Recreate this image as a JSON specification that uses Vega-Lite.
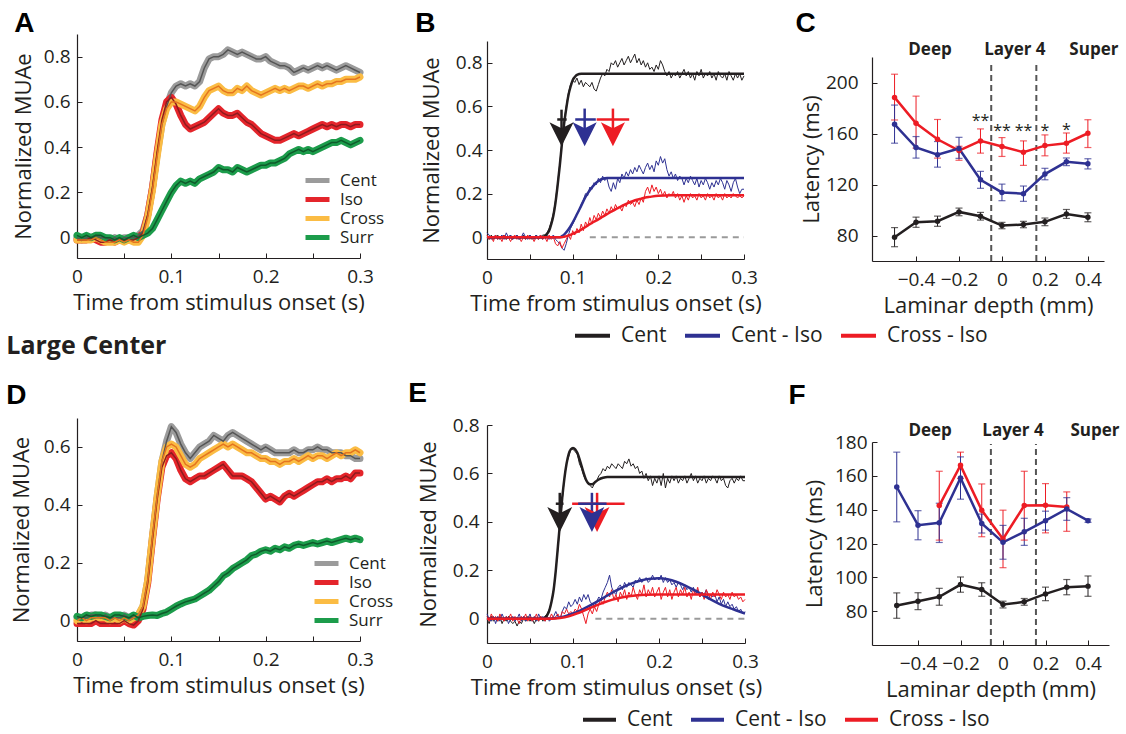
{
"$schema": "https://vega.github.io/schema/vega-lite/v6.json",
"background": "white",
"padding": {"left": 6, "top": 10, "right": 0, "bottom": 2},
"config": {
  "view": {"stroke": null},
  "axis": {"grid": false, "domainColor": "#231f20", "domainWidth": 1.2, "tickColor": "#231f20", "tickSize": -5, "labelColor": "#231f20", "titleColor": "#231f20", "labelFont": "Open Sans", "titleFont": "Open Sans", "labelFontSize": 19, "titleFontSize": 22, "titleFontWeight": "normal", "labelFlush": false, "labelOverlap": false},
  "title": {"anchor": "start", "frame": "bounds", "font": "Liberation Sans", "fontSize": 28, "fontWeight": "bold", "color": "#000000", "offset": -4},
  "legend": {"labelFont": "Open Sans", "labelColor": "#231f20"}
},
"columns": 3,
"align": "each",
"bounds": "flush",
"spacing": {"row": 157, "column": 127},
"resolve": {"scale": {"x": "independent", "y": "independent", "color": "independent", "stroke": "independent", "fill": "independent"}, "legend": {"color": "independent"}},
"concat": [
  {
   "width": 283, "height": 224,
   "title": {"text": "A", "dx": 2},
   "data": {"values": [
{"t":0,"Cent":0,"Iso":-0.01,"Cross":-0.01,"Surr":0.01},
{"t":0.005,"Cent":-0.01,"Iso":-0.01,"Cross":-0.01,"Surr":0},
{"t":0.01,"Cent":0,"Iso":-0.01,"Cross":-0.01,"Surr":0.01},
{"t":0.015,"Cent":0,"Iso":0,"Cross":-0.01,"Surr":0},
{"t":0.02,"Cent":0.01,"Iso":-0.01,"Cross":0,"Surr":0.01},
{"t":0.025,"Cent":0,"Iso":-0.02,"Cross":-0.01,"Surr":0.01},
{"t":0.03,"Cent":0,"Iso":-0.02,"Cross":-0.02,"Surr":0},
{"t":0.035,"Cent":-0.01,"Iso":-0.01,"Cross":-0.02,"Surr":0},
{"t":0.04,"Cent":0,"Iso":-0.02,"Cross":-0.02,"Surr":-0.01},
{"t":0.045,"Cent":-0.01,"Iso":-0.01,"Cross":-0.01,"Surr":0},
{"t":0.05,"Cent":0,"Iso":-0.01,"Cross":-0.02,"Surr":-0.01},
{"t":0.055,"Cent":0,"Iso":-0.01,"Cross":-0.01,"Surr":0},
{"t":0.06,"Cent":0,"Iso":-0.01,"Cross":-0.02,"Surr":0.01},
{"t":0.065,"Cent":0.01,"Iso":0,"Cross":-0.02,"Surr":0},
{"t":0.07,"Cent":0.03,"Iso":0.02,"Cross":0.01,"Surr":0.01},
{"t":0.075,"Cent":0.1,"Iso":0.1,"Cross":0.09,"Surr":0.02},
{"t":0.08,"Cent":0.22,"Iso":0.22,"Cross":0.21,"Surr":0.04},
{"t":0.085,"Cent":0.37,"Iso":0.38,"Cross":0.36,"Surr":0.08},
{"t":0.09,"Cent":0.5,"Iso":0.52,"Cross":0.5,"Surr":0.12},
{"t":0.095,"Cent":0.58,"Iso":0.6,"Cross":0.57,"Surr":0.16},
{"t":0.1,"Cent":0.64,"Iso":0.62,"Cross":0.6,"Surr":0.2},
{"t":0.105,"Cent":0.67,"Iso":0.59,"Cross":0.6,"Surr":0.23},
{"t":0.11,"Cent":0.68,"Iso":0.54,"Cross":0.59,"Surr":0.25},
{"t":0.115,"Cent":0.67,"Iso":0.5,"Cross":0.58,"Surr":0.24},
{"t":0.12,"Cent":0.68,"Iso":0.48,"Cross":0.57,"Surr":0.25},
{"t":0.125,"Cent":0.67,"Iso":0.49,"Cross":0.56,"Surr":0.24},
{"t":0.13,"Cent":0.69,"Iso":0.5,"Cross":0.58,"Surr":0.26},
{"t":0.135,"Cent":0.75,"Iso":0.51,"Cross":0.62,"Surr":0.27},
{"t":0.14,"Cent":0.79,"Iso":0.53,"Cross":0.65,"Surr":0.28},
{"t":0.145,"Cent":0.8,"Iso":0.55,"Cross":0.66,"Surr":0.29},
{"t":0.15,"Cent":0.8,"Iso":0.57,"Cross":0.67,"Surr":0.31},
{"t":0.155,"Cent":0.81,"Iso":0.55,"Cross":0.65,"Surr":0.3},
{"t":0.16,"Cent":0.83,"Iso":0.54,"Cross":0.64,"Surr":0.3},
{"t":0.165,"Cent":0.82,"Iso":0.54,"Cross":0.64,"Surr":0.29},
{"t":0.17,"Cent":0.81,"Iso":0.55,"Cross":0.66,"Surr":0.31},
{"t":0.175,"Cent":0.82,"Iso":0.53,"Cross":0.65,"Surr":0.3},
{"t":0.18,"Cent":0.81,"Iso":0.51,"Cross":0.67,"Surr":0.29},
{"t":0.185,"Cent":0.8,"Iso":0.5,"Cross":0.65,"Surr":0.3},
{"t":0.19,"Cent":0.79,"Iso":0.48,"Cross":0.64,"Surr":0.31},
{"t":0.195,"Cent":0.79,"Iso":0.46,"Cross":0.63,"Surr":0.32},
{"t":0.2,"Cent":0.8,"Iso":0.45,"Cross":0.64,"Surr":0.32},
{"t":0.205,"Cent":0.78,"Iso":0.44,"Cross":0.65,"Surr":0.33},
{"t":0.21,"Cent":0.77,"Iso":0.43,"Cross":0.66,"Surr":0.33},
{"t":0.215,"Cent":0.76,"Iso":0.43,"Cross":0.65,"Surr":0.34},
{"t":0.22,"Cent":0.76,"Iso":0.44,"Cross":0.66,"Surr":0.35},
{"t":0.225,"Cent":0.75,"Iso":0.45,"Cross":0.65,"Surr":0.37},
{"t":0.23,"Cent":0.73,"Iso":0.46,"Cross":0.66,"Surr":0.38},
{"t":0.235,"Cent":0.74,"Iso":0.45,"Cross":0.67,"Surr":0.39},
{"t":0.24,"Cent":0.75,"Iso":0.46,"Cross":0.67,"Surr":0.38},
{"t":0.245,"Cent":0.74,"Iso":0.47,"Cross":0.66,"Surr":0.39},
{"t":0.25,"Cent":0.75,"Iso":0.48,"Cross":0.67,"Surr":0.38},
{"t":0.255,"Cent":0.76,"Iso":0.49,"Cross":0.68,"Surr":0.39},
{"t":0.26,"Cent":0.75,"Iso":0.5,"Cross":0.67,"Surr":0.4},
{"t":0.265,"Cent":0.76,"Iso":0.49,"Cross":0.68,"Surr":0.41},
{"t":0.27,"Cent":0.75,"Iso":0.5,"Cross":0.68,"Surr":0.42},
{"t":0.275,"Cent":0.74,"Iso":0.49,"Cross":0.69,"Surr":0.42},
{"t":0.28,"Cent":0.75,"Iso":0.5,"Cross":0.69,"Surr":0.43},
{"t":0.285,"Cent":0.76,"Iso":0.5,"Cross":0.7,"Surr":0.42},
{"t":0.29,"Cent":0.75,"Iso":0.49,"Cross":0.7,"Surr":0.41},
{"t":0.295,"Cent":0.74,"Iso":0.5,"Cross":0.7,"Surr":0.42},
{"t":0.3,"Cent":0.73,"Iso":0.5,"Cross":0.71,"Surr":0.43}
   ]},
   "transform": [{"fold": ["Cent","Iso","Cross","Surr"], "as": ["k","v"]}],
   "layer": [
    {"mark": {"type": "line", "strokeWidth": 7, "strokeJoin": "round", "strokeCap": "round"},
     "encoding": {
      "x": {"field": "t", "type": "quantitative", "scale": {"domain": [0,0.3], "nice": false, "zero": false},
            "axis": {"title": "Time from stimulus onset (s)", "values": [0,0.05,0.1,0.15,0.2,0.25,0.3], "format": "~g", "labelExpr": "round(datum.value*20) % 2 == 0 ? datum.label : ''", "labelPadding": 14, "titlePadding": 6}},
      "y": {"field": "v", "type": "quantitative", "scale": {"domain": [-0.09,0.9], "nice": false, "zero": false},
            "axis": {"title": "Normalized MUAe", "values": [0,0.1,0.2,0.3,0.4,0.5,0.6,0.7,0.8], "format": "~g", "labelExpr": "round(datum.value*10) % 2 == 0 ? datum.label : ''", "labelPadding": 12, "titlePadding": 8}},
      "color": {"field": "k", "type": "nominal", "scale": {"domain": ["Cent","Iso","Cross","Surr"], "range": ["#9b9b9b","#e4252b","#fbbc44","#1c9c4b"]},
                "legend": {"title": null, "orient": "none", "legendX": 226, "legendY": 137, "symbolType": "stroke", "symbolSize": 576, "symbolStrokeWidth": 5, "labelFontSize": 17, "labelOffset": 8, "rowPadding": 0, "clipHeight": 19}}
     }},
    {"mark": {"type": "line", "strokeWidth": 1.5},
     "encoding": {
      "x": {"field": "t", "type": "quantitative", "scale": {"domain": [0,0.3], "nice": false, "zero": false}},
      "y": {"field": "v", "type": "quantitative", "scale": {"domain": [-0.09,0.9], "nice": false, "zero": false}},
      "stroke": {"field": "k", "type": "nominal", "scale": {"domain": ["Cent","Iso","Cross","Surr"], "range": ["#555555","#8e1b1e","#e4741f","#0f5a2b"]}, "legend": null}
     }}
   ]
  },
  {
   "width": 257, "height": 225,
   "title": {"text": "B", "dx": -5},
   "layer": [
    {"data": {"values": [{"t":0.12,"t2":0.3,"v":0}]},
     "mark": {"type": "rule", "strokeDash": [6,5], "strokeWidth": 2, "color": "#9a9a9a"},
     "encoding": {
      "x": {"field": "t", "type": "quantitative", "scale": {"domain": [0,0.3], "nice": false, "zero": false}},
      "x2": {"field": "t2"},
      "y": {"field": "v", "type": "quantitative", "scale": {"domain": [-0.1,0.9], "range": [225,7], "nice": false, "zero": false}}
     }},
    {"data": {"values": [
{"t":0,"c":0,"b":0.02,"r":0.01},
{"t":0.0025,"c":-0.01,"b":0.01,"r":-0.01},
{"t":0.005,"c":0.01,"b":-0.01,"r":0},
{"t":0.0075,"c":-0.01,"b":0,"r":-0.02},
{"t":0.01,"c":0,"b":0.01,"r":0.01},
{"t":0.0125,"c":0.01,"b":-0.01,"r":-0.01},
{"t":0.015,"c":-0.01,"b":0,"r":0},
{"t":0.0175,"c":0,"b":0.01,"r":-0.02},
{"t":0.02,"c":0.01,"b":-0.01,"r":0.01},
{"t":0.0225,"c":-0.01,"b":0.02,"r":-0.01},
{"t":0.025,"c":0,"b":0,"r":0},
{"t":0.0275,"c":0.01,"b":0.01,"r":-0.02},
{"t":0.03,"c":-0.01,"b":-0.01,"r":0},
{"t":0.0325,"c":0,"b":0,"r":0.01},
{"t":0.035,"c":0.01,"b":0.01,"r":-0.01},
{"t":0.0375,"c":-0.01,"b":-0.01,"r":0},
{"t":0.04,"c":0,"b":0,"r":-0.02},
{"t":0.0425,"c":0.01,"b":0.02,"r":0},
{"t":0.045,"c":-0.01,"b":0,"r":-0.01},
{"t":0.0475,"c":0,"b":-0.01,"r":0.01},
{"t":0.05,"c":0.01,"b":0.01,"r":-0.01},
{"t":0.0525,"c":-0.01,"b":0,"r":0},
{"t":0.055,"c":0,"b":-0.01,"r":-0.02},
{"t":0.0575,"c":0.01,"b":0.01,"r":0},
{"t":0.06,"c":-0.01,"b":0,"r":-0.01},
{"t":0.0625,"c":0,"b":0.01,"r":0.01},
{"t":0.065,"c":0.01,"b":-0.01,"r":-0.01},
{"t":0.0675,"c":0.01,"b":0,"r":0},
{"t":0.07,"c":0.02,"b":0.01,"r":-0.02},
{"t":0.0725,"c":0.04,"b":-0.01,"r":0.01},
{"t":0.075,"c":0.07,"b":0,"r":-0.01},
{"t":0.0775,"c":0.11,"b":0.01,"r":0},
{"t":0.08,"c":0.17,"b":-0.01,"r":-0.03},
{"t":0.0825,"c":0.25,"b":-0.02,"r":-0.04},
{"t":0.085,"c":0.34,"b":-0.03,"r":-0.02},
{"t":0.0875,"c":0.44,"b":-0.05,"r":-0.05},
{"t":0.09,"c":0.53,"b":-0.06,"r":-0.03},
{"t":0.0925,"c":0.6,"b":-0.03,"r":-0.01},
{"t":0.095,"c":0.66,"b":0.01,"r":0.01},
{"t":0.0975,"c":0.7,"b":0.04,"r":-0.01},
{"t":0.1,"c":0.72,"b":0.06,"r":0.03},
{"t":0.1025,"c":0.71,"b":0.08,"r":0.01},
{"t":0.105,"c":0.73,"b":0.11,"r":0.04},
{"t":0.1075,"c":0.7,"b":0.12,"r":0.02},
{"t":0.11,"c":0.72,"b":0.15,"r":0.06},
{"t":0.1125,"c":0.69,"b":0.17,"r":0.03},
{"t":0.115,"c":0.71,"b":0.2,"r":0.07},
{"t":0.1175,"c":0.7,"b":0.19,"r":0.05},
{"t":0.12,"c":0.69,"b":0.23,"r":0.09},
{"t":0.1225,"c":0.71,"b":0.22,"r":0.06},
{"t":0.125,"c":0.68,"b":0.25,"r":0.1},
{"t":0.1275,"c":0.67,"b":0.24,"r":0.08},
{"t":0.13,"c":0.7,"b":0.27,"r":0.11},
{"t":0.1325,"c":0.73,"b":0.25,"r":0.09},
{"t":0.135,"c":0.75,"b":0.28,"r":0.12},
{"t":0.1375,"c":0.74,"b":0.26,"r":0.1},
{"t":0.14,"c":0.77,"b":0.27,"r":0.13},
{"t":0.1425,"c":0.76,"b":0.23,"r":0.11},
{"t":0.145,"c":0.8,"b":0.21,"r":0.14},
{"t":0.1475,"c":0.79,"b":0.25,"r":0.12},
{"t":0.15,"c":0.81,"b":0.22,"r":0.15},
{"t":0.1525,"c":0.78,"b":0.27,"r":0.13},
{"t":0.155,"c":0.8,"b":0.25,"r":0.14},
{"t":0.1575,"c":0.82,"b":0.29,"r":0.12},
{"t":0.16,"c":0.79,"b":0.27,"r":0.15},
{"t":0.1625,"c":0.81,"b":0.3,"r":0.14},
{"t":0.165,"c":0.83,"b":0.28,"r":0.17},
{"t":0.1675,"c":0.8,"b":0.31,"r":0.15},
{"t":0.17,"c":0.82,"b":0.29,"r":0.16},
{"t":0.1725,"c":0.84,"b":0.32,"r":0.14},
{"t":0.175,"c":0.8,"b":0.3,"r":0.17},
{"t":0.1775,"c":0.82,"b":0.33,"r":0.15},
{"t":0.18,"c":0.79,"b":0.31,"r":0.18},
{"t":0.1825,"c":0.81,"b":0.29,"r":0.16},
{"t":0.185,"c":0.78,"b":0.32,"r":0.21},
{"t":0.1875,"c":0.8,"b":0.34,"r":0.23},
{"t":0.19,"c":0.77,"b":0.31,"r":0.2},
{"t":0.1925,"c":0.78,"b":0.33,"r":0.24},
{"t":0.195,"c":0.76,"b":0.3,"r":0.21},
{"t":0.1975,"c":0.79,"b":0.35,"r":0.23},
{"t":0.2,"c":0.77,"b":0.33,"r":0.2},
{"t":0.2025,"c":0.81,"b":0.37,"r":0.22},
{"t":0.205,"c":0.79,"b":0.34,"r":0.19},
{"t":0.2075,"c":0.76,"b":0.36,"r":0.21},
{"t":0.21,"c":0.74,"b":0.31,"r":0.18},
{"t":0.2125,"c":0.76,"b":0.28,"r":0.2},
{"t":0.215,"c":0.73,"b":0.3,"r":0.19},
{"t":0.2175,"c":0.75,"b":0.27,"r":0.21},
{"t":0.22,"c":0.74,"b":0.29,"r":0.18},
{"t":0.2225,"c":0.76,"b":0.26,"r":0.2},
{"t":0.225,"c":0.73,"b":0.28,"r":0.17},
{"t":0.2275,"c":0.75,"b":0.27,"r":0.19},
{"t":0.23,"c":0.77,"b":0.24,"r":0.16},
{"t":0.2325,"c":0.74,"b":0.27,"r":0.19},
{"t":0.235,"c":0.76,"b":0.25,"r":0.17},
{"t":0.2375,"c":0.73,"b":0.28,"r":0.2},
{"t":0.24,"c":0.75,"b":0.26,"r":0.18},
{"t":0.2425,"c":0.72,"b":0.24,"r":0.19},
{"t":0.245,"c":0.76,"b":0.27,"r":0.17},
{"t":0.2475,"c":0.74,"b":0.23,"r":0.2},
{"t":0.25,"c":0.77,"b":0.26,"r":0.18},
{"t":0.2525,"c":0.73,"b":0.24,"r":0.19},
{"t":0.255,"c":0.75,"b":0.27,"r":0.17},
{"t":0.2575,"c":0.74,"b":0.25,"r":0.2},
{"t":0.26,"c":0.76,"b":0.22,"r":0.18},
{"t":0.2625,"c":0.73,"b":0.25,"r":0.19},
{"t":0.265,"c":0.75,"b":0.23,"r":0.17},
{"t":0.2675,"c":0.72,"b":0.26,"r":0.2},
{"t":0.27,"c":0.76,"b":0.24,"r":0.18},
{"t":0.2725,"c":0.74,"b":0.27,"r":0.19},
{"t":0.275,"c":0.73,"b":0.25,"r":0.17},
{"t":0.2775,"c":0.75,"b":0.22,"r":0.2},
{"t":0.28,"c":0.72,"b":0.26,"r":0.18},
{"t":0.2825,"c":0.76,"b":0.24,"r":0.19},
{"t":0.285,"c":0.74,"b":0.21,"r":0.18},
{"t":0.2875,"c":0.72,"b":0.25,"r":0.2},
{"t":0.29,"c":0.75,"b":0.27,"r":0.19},
{"t":0.2925,"c":0.73,"b":0.23,"r":0.18},
{"t":0.295,"c":0.75,"b":0.2,"r":0.19},
{"t":0.2975,"c":0.72,"b":0.22,"r":0.18},
{"t":0.3,"c":0.74,"b":0.22,"r":0.19}
     ]},
     "transform": [{"fold": ["c","b","r"], "as": ["k","v"]}],
     "mark": {"type": "line", "strokeWidth": 1},
     "encoding": {
      "x": {"field": "t", "type": "quantitative", "scale": {"domain": [0,0.3], "nice": false, "zero": false},
            "axis": {"title": "Time from stimulus onset (s)", "values": [0,0.05,0.1,0.15,0.2,0.25,0.3], "format": "~g", "labelExpr": "round(datum.value*20) % 2 == 0 ? datum.label : ''", "labelPadding": 14, "titlePadding": 6}},
      "y": {"field": "v", "type": "quantitative", "scale": {"domain": [-0.1,0.9], "range": [225,7], "nice": false, "zero": false},
            "axis": {"title": "Normalized MUAe", "values": [0,0.1,0.2,0.3,0.4,0.5,0.6,0.7,0.8], "format": "~g", "labelExpr": "round(datum.value*10) % 2 == 0 ? datum.label : ''", "labelPadding": 10, "titlePadding": 12}},
      "stroke": {"field": "k", "type": "nominal", "scale": {"domain": ["c","b","r"], "range": ["#231f20","#2e3192","#ed1c24"]}, "legend": null}
     }},
    {"data": {"values": [
{"s":"Cent","t":0,"v":0},{"s":"Cent","t":0.065,"v":0},{"s":"Cent","t":0.0675,"v":0.005},{"s":"Cent","t":0.07,"v":0.015},{"s":"Cent","t":0.0725,"v":0.03},{"s":"Cent","t":0.075,"v":0.06},{"s":"Cent","t":0.0775,"v":0.1},{"s":"Cent","t":0.08,"v":0.16},{"s":"Cent","t":0.0825,"v":0.24},{"s":"Cent","t":0.085,"v":0.33},{"s":"Cent","t":0.0875,"v":0.43},{"s":"Cent","t":0.09,"v":0.52},{"s":"Cent","t":0.0925,"v":0.59},{"s":"Cent","t":0.095,"v":0.65},{"s":"Cent","t":0.0975,"v":0.69},{"s":"Cent","t":0.1,"v":0.72},{"s":"Cent","t":0.1025,"v":0.735},{"s":"Cent","t":0.105,"v":0.745},{"s":"Cent","t":0.11,"v":0.75},{"s":"Cent","t":0.3,"v":0.75},
{"s":"Cent - Iso","t":0,"v":0},{"s":"Cent - Iso","t":0.085,"v":0},{"s":"Cent - Iso","t":0.0875,"v":0.005},{"s":"Cent - Iso","t":0.09,"v":0.012},{"s":"Cent - Iso","t":0.095,"v":0.035},{"s":"Cent - Iso","t":0.1,"v":0.067},{"s":"Cent - Iso","t":0.105,"v":0.105},{"s":"Cent - Iso","t":0.11,"v":0.145},{"s":"Cent - Iso","t":0.115,"v":0.185},{"s":"Cent - Iso","t":0.12,"v":0.215},{"s":"Cent - Iso","t":0.125,"v":0.24},{"s":"Cent - Iso","t":0.13,"v":0.258},{"s":"Cent - Iso","t":0.135,"v":0.268},{"s":"Cent - Iso","t":0.14,"v":0.272},{"s":"Cent - Iso","t":0.3,"v":0.272},
{"s":"Cross - Iso","t":0,"v":0},{"s":"Cross - Iso","t":0.0875,"v":0},{"s":"Cross - Iso","t":0.09,"v":0.002},{"s":"Cross - Iso","t":0.095,"v":0.008},{"s":"Cross - Iso","t":0.1,"v":0.015},{"s":"Cross - Iso","t":0.105,"v":0.024},{"s":"Cross - Iso","t":0.11,"v":0.035},{"s":"Cross - Iso","t":0.115,"v":0.047},{"s":"Cross - Iso","t":0.12,"v":0.06},{"s":"Cross - Iso","t":0.125,"v":0.071},{"s":"Cross - Iso","t":0.13,"v":0.082},{"s":"Cross - Iso","t":0.135,"v":0.094},{"s":"Cross - Iso","t":0.14,"v":0.106},{"s":"Cross - Iso","t":0.145,"v":0.117},{"s":"Cross - Iso","t":0.15,"v":0.128},{"s":"Cross - Iso","t":0.155,"v":0.138},{"s":"Cross - Iso","t":0.16,"v":0.148},{"s":"Cross - Iso","t":0.165,"v":0.157},{"s":"Cross - Iso","t":0.17,"v":0.165},{"s":"Cross - Iso","t":0.175,"v":0.172},{"s":"Cross - Iso","t":0.18,"v":0.177},{"s":"Cross - Iso","t":0.185,"v":0.182},{"s":"Cross - Iso","t":0.19,"v":0.185},{"s":"Cross - Iso","t":0.2,"v":0.19},{"s":"Cross - Iso","t":0.215,"v":0.192},{"s":"Cross - Iso","t":0.3,"v":0.192}
     ]},
     "mark": {"type": "line", "strokeWidth": 2.5, "interpolate": "monotone"},
     "encoding": {
      "x": {"field": "t", "type": "quantitative", "scale": {"domain": [0,0.3], "nice": false, "zero": false}},
      "y": {"field": "v", "type": "quantitative", "scale": {"domain": [-0.1,0.9], "range": [225,7], "nice": false, "zero": false}},
      "color": {"field": "s", "type": "nominal", "scale": {"domain": ["Cent","Cent - Iso","Cross - Iso"], "range": ["#231f20","#2e3192","#ed1c24"]},
                "legend": {"title": null, "orient": "none", "legendX": 86, "legendY": 282, "direction": "horizontal", "symbolType": "stroke", "symbolSize": 1225, "symbolStrokeWidth": 4, "labelFontSize": 21, "labelOffset": 9, "columnPadding": 10}}
     }},
    {"data": {"values": [
{"k":"c","x":0.087,"top":0.585,"lo":0.082,"hi":0.093,"bar":0.54,"head":0.472},
{"k":"b","x":0.114,"top":0.59,"lo":0.103,"hi":0.127,"bar":0.54,"head":0.472},
{"k":"r","x":0.147,"top":0.59,"lo":0.128,"hi":0.166,"bar":0.54,"head":0.472}
     ]},
     "layer": [
      {"mark": {"type": "rule", "strokeWidth": 2.5},
       "encoding": {
        "x": {"field": "x", "type": "quantitative", "scale": {"domain": [0,0.3], "nice": false, "zero": false}},
        "y": {"field": "top", "type": "quantitative", "scale": {"domain": [-0.1,0.9], "range": [225,7], "nice": false, "zero": false}},
        "y2": {"field": "head"},
        "stroke": {"field": "k", "type": "nominal", "scale": {"domain": ["c","b","r"], "range": ["#231f20","#2e3192","#ed1c24"]}, "legend": null}
       }},
      {"mark": {"type": "rule", "strokeWidth": 2.5},
       "encoding": {
        "x": {"field": "lo", "type": "quantitative", "scale": {"domain": [0,0.3], "nice": false, "zero": false}},
        "x2": {"field": "hi"},
        "y": {"field": "bar", "type": "quantitative", "scale": {"domain": [-0.1,0.9], "range": [225,7], "nice": false, "zero": false}},
        "stroke": {"field": "k", "type": "nominal", "scale": {"domain": ["c","b","r"], "range": ["#231f20","#2e3192","#ed1c24"]}, "legend": null}
       }},
      {"mark": {"type": "point", "shape": "M-1,-1L0,-0.5L1,-1L0,1Z", "filled": true, "opacity": 1, "size": 580, "strokeWidth": 0},
       "encoding": {
        "x": {"field": "x", "type": "quantitative", "scale": {"domain": [0,0.3], "nice": false, "zero": false}},
        "y": {"field": "head", "type": "quantitative", "scale": {"domain": [-0.1,0.9], "range": [225,7], "nice": false, "zero": false}},
        "fill": {"field": "k", "type": "nominal", "scale": {"domain": ["c","b","r"], "range": ["#231f20","#2e3192","#ed1c24"]}, "legend": null}
       }}
     ]}
   ]
  },
  {
   "width": 232, "height": 227,
   "title": {"text": "C", "dx": -5},
   "layer": [
    {"data": {"values": [{"d":-0.05,"y1":60,"y2":214.5},{"d":0.16,"y1":60,"y2":214.5}]},
     "mark": {"type": "rule", "strokeDash": [6,4], "strokeWidth": 2, "color": "#555555"},
     "encoding": {
      "x": {"field": "d", "type": "quantitative", "scale": {"domain": [-0.605,0.475], "nice": false, "zero": false}},
      "y": {"field": "y1", "type": "quantitative", "scale": {"domain": [60,220], "range": [227,23], "nice": false, "zero": false}},
      "y2": {"field": "y2"}
     }},
    {"data": {"values": [
{"s":"Cent","d":-0.5,"y":78.7,"lo":71.2,"hi":86.2},
{"s":"Cent","d":-0.4,"y":90.4,"lo":86.4,"hi":94.4},
{"s":"Cent","d":-0.3,"y":91.2,"lo":87.2,"hi":95.2},
{"s":"Cent","d":-0.2,"y":98.5,"lo":95.5,"hi":101.5},
{"s":"Cent","d":-0.1,"y":95.1,"lo":92.1,"hi":98.1},
{"s":"Cent","d":0,"y":87.8,"lo":85.3,"hi":90.3},
{"s":"Cent","d":0.1,"y":88.6,"lo":86.1,"hi":91.1},
{"s":"Cent","d":0.2,"y":90.7,"lo":87.7,"hi":93.7},
{"s":"Cent","d":0.3,"y":96.9,"lo":93.4,"hi":100.4},
{"s":"Cent","d":0.4,"y":94.3,"lo":90.8,"hi":97.8},
{"s":"Cross - Iso","d":-0.5,"y":188.3,"lo":170.6,"hi":206.5},
{"s":"Cross - Iso","d":-0.4,"y":168,"lo":148.5,"hi":189.3},
{"s":"Cross - Iso","d":-0.3,"y":155.5,"lo":140.7,"hi":171},
{"s":"Cross - Iso","d":-0.2,"y":146.6,"lo":139,"hi":150},
{"s":"Cross - Iso","d":-0.1,"y":154.2,"lo":144.6,"hi":163.6},
{"s":"Cross - Iso","d":0,"y":149.8,"lo":142,"hi":156.8},
{"s":"Cross - Iso","d":0.1,"y":145.3,"lo":135,"hi":154.2},
{"s":"Cross - Iso","d":0.2,"y":150.5,"lo":142.5,"hi":158.9},
{"s":"Cross - Iso","d":0.3,"y":152.4,"lo":144.6,"hi":160.4},
{"s":"Cross - Iso","d":0.4,"y":160.2,"lo":149,"hi":170.8},
{"s":"Cent - Iso","d":-0.5,"y":167.2,"lo":152.4,"hi":182.3},
{"s":"Cent - Iso","d":-0.4,"y":149,"lo":140.7,"hi":157.6},
{"s":"Cent - Iso","d":-0.3,"y":143.3,"lo":133.6,"hi":153.7},
{"s":"Cent - Iso","d":-0.2,"y":148.2,"lo":140.5,"hi":157},
{"s":"Cent - Iso","d":-0.1,"y":123.7,"lo":117,"hi":130.3},
{"s":"Cent - Iso","d":0,"y":113.8,"lo":107.3,"hi":120.3},
{"s":"Cent - Iso","d":0.1,"y":112.8,"lo":106.8,"hi":118.8},
{"s":"Cent - Iso","d":0.2,"y":128.2,"lo":123.7,"hi":132.7},
{"s":"Cent - Iso","d":0.3,"y":137.8,"lo":134.8,"hi":140.8},
{"s":"Cent - Iso","d":0.4,"y":136.2,"lo":132.2,"hi":140.2}
     ]},
     "layer": [
      {"mark": {"type": "rule", "strokeWidth": 1},
       "encoding": {
        "x": {"field": "d", "type": "quantitative", "scale": {"domain": [-0.605,0.475], "nice": false, "zero": false}},
        "y": {"field": "lo", "type": "quantitative", "scale": {"domain": [60,220], "range": [227,23], "nice": false, "zero": false}},
        "y2": {"field": "hi"},
        "color": {"field": "s", "type": "nominal", "scale": {"domain": ["Cent","Cent - Iso","Cross - Iso"], "range": ["#231f20","#2e3192","#ed1c24"]}, "legend": null}
       }},
      {"mark": {"type": "tick", "orient": "horizontal", "size": 7, "thickness": 1.2},
       "encoding": {
        "x": {"field": "d", "type": "quantitative", "scale": {"domain": [-0.605,0.475], "nice": false, "zero": false}},
        "y": {"field": "lo", "type": "quantitative", "scale": {"domain": [60,220], "range": [227,23], "nice": false, "zero": false}},
        "color": {"field": "s", "type": "nominal", "scale": {"domain": ["Cent","Cent - Iso","Cross - Iso"], "range": ["#231f20","#2e3192","#ed1c24"]}, "legend": null}
       }},
      {"mark": {"type": "tick", "orient": "horizontal", "size": 7, "thickness": 1.2},
       "encoding": {
        "x": {"field": "d", "type": "quantitative", "scale": {"domain": [-0.605,0.475], "nice": false, "zero": false}},
        "y": {"field": "hi", "type": "quantitative", "scale": {"domain": [60,220], "range": [227,23], "nice": false, "zero": false}},
        "color": {"field": "s", "type": "nominal", "scale": {"domain": ["Cent","Cent - Iso","Cross - Iso"], "range": ["#231f20","#2e3192","#ed1c24"]}, "legend": null}
       }},
      {"mark": {"type": "line", "strokeWidth": 2.5},
       "encoding": {
        "x": {"field": "d", "type": "quantitative", "scale": {"domain": [-0.605,0.475], "nice": false, "zero": false},
              "axis": {"title": "Laminar depth (mm)", "values": [-0.4,-0.2,0,0.2,0.4], "format": "~g", "labelPadding": 14, "titlePadding": 6}},
        "y": {"field": "y", "type": "quantitative", "scale": {"domain": [60,220], "range": [227,23], "nice": false, "zero": false},
              "axis": {"title": "Latency (ms)", "values": [80,100,120,140,160,180,200], "labelExpr": "(datum.value/20) % 2 == 0 ? datum.label : ''", "labelPadding": 19, "titlePadding": 2}},
        "color": {"field": "s", "type": "nominal", "scale": {"domain": ["Cent","Cent - Iso","Cross - Iso"], "range": ["#231f20","#2e3192","#ed1c24"]}, "legend": null}
       }},
      {"mark": {"type": "point", "filled": true, "opacity": 1, "size": 30, "shape": "circle"},
       "encoding": {
        "x": {"field": "d", "type": "quantitative", "scale": {"domain": [-0.605,0.475], "nice": false, "zero": false}},
        "y": {"field": "y", "type": "quantitative", "scale": {"domain": [60,220], "range": [227,23], "nice": false, "zero": false}},
        "color": {"field": "s", "type": "nominal", "scale": {"domain": ["Cent","Cent - Iso","Cross - Iso"], "range": ["#231f20","#2e3192","#ed1c24"]}, "legend": null}
       }}
     ]},
    {"data": {"values": [{"lab":"Deep","d":-0.335,"y":221.6},{"lab":"Layer 4","d":0.06,"y":221.6},{"lab":"Super","d":0.428,"y":221.6}]},
     "mark": {"type": "text", "font": "Open Sans", "fontWeight": "bold", "fontSize": 17, "baseline": "alphabetic", "align": "center", "color": "#231f20"},
     "encoding": {
      "x": {"field": "d", "type": "quantitative", "scale": {"domain": [-0.605,0.475], "nice": false, "zero": false}},
      "y": {"field": "y", "type": "quantitative", "scale": {"domain": [60,220], "range": [227,23], "nice": false, "zero": false}},
      "text": {"field": "lab"}
     }},
    {"data": {"values": [{"lab":"**","d":-0.1,"y":166},{"lab":"**","d":0,"y":157.7},{"lab":"**","d":0.1,"y":157.7},{"lab":"*","d":0.2,"y":157.7},{"lab":"*","d":0.3,"y":158.5}]},
     "mark": {"type": "text", "font": "Open Sans", "fontSize": 16, "baseline": "alphabetic", "align": "center", "color": "#231f20"},
     "encoding": {
      "x": {"field": "d", "type": "quantitative", "scale": {"domain": [-0.605,0.475], "nice": false, "zero": false}},
      "y": {"field": "y", "type": "quantitative", "scale": {"domain": [60,220], "range": [227,23], "nice": false, "zero": false}},
      "text": {"field": "lab"}
     }}
   ]
  },
  {
   "width": 283, "height": 223,
   "title": {"text": "Large Center", "subtitle": "D", "font": "Open Sans", "fontSize": 25, "fontWeight": "bold", "color": "#231f20", "subtitleFont": "Liberation Sans", "subtitleFontSize": 28, "subtitleFontWeight": "bold", "subtitleColor": "#000000", "subtitlePadding": 23, "offset": 8, "dx": -4},
   "data": {"values": [
{"t":0,"Cent":0.01,"Iso":-0.01,"Cross":0,"Surr":0.015},
{"t":0.005,"Cent":0.01,"Iso":-0.01,"Cross":0.01,"Surr":0.01},
{"t":0.01,"Cent":0.01,"Iso":-0.01,"Cross":0,"Surr":0.02},
{"t":0.015,"Cent":0.02,"Iso":-0.01,"Cross":0.01,"Surr":0.015},
{"t":0.02,"Cent":0.02,"Iso":0,"Cross":0.01,"Surr":0.02},
{"t":0.025,"Cent":0.01,"Iso":-0.01,"Cross":0.01,"Surr":0.02},
{"t":0.03,"Cent":0.02,"Iso":-0.01,"Cross":0.01,"Surr":0.015},
{"t":0.035,"Cent":0.01,"Iso":-0.01,"Cross":0,"Surr":0.01},
{"t":0.04,"Cent":0.01,"Iso":-0.01,"Cross":0.01,"Surr":0.02},
{"t":0.045,"Cent":0.01,"Iso":-0.01,"Cross":0,"Surr":0.02},
{"t":0.05,"Cent":0.02,"Iso":0,"Cross":0.01,"Surr":0.015},
{"t":0.055,"Cent":0.01,"Iso":-0.01,"Cross":0,"Surr":0.01},
{"t":0.06,"Cent":0.01,"Iso":-0.015,"Cross":0.01,"Surr":0.02},
{"t":0.065,"Cent":0.02,"Iso":0,"Cross":0.02,"Surr":0.01},
{"t":0.07,"Cent":0.05,"Iso":0.04,"Cross":0.05,"Surr":0.015},
{"t":0.075,"Cent":0.14,"Iso":0.13,"Cross":0.14,"Surr":0.018},
{"t":0.08,"Cent":0.29,"Iso":0.28,"Cross":0.29,"Surr":0.02},
{"t":0.085,"Cent":0.43,"Iso":0.42,"Cross":0.43,"Surr":0.018},
{"t":0.09,"Cent":0.55,"Iso":0.53,"Cross":0.55,"Surr":0.025},
{"t":0.095,"Cent":0.62,"Iso":0.57,"Cross":0.6,"Surr":0.03},
{"t":0.1,"Cent":0.67,"Iso":0.58,"Cross":0.61,"Surr":0.04},
{"t":0.105,"Cent":0.65,"Iso":0.56,"Cross":0.6,"Surr":0.05},
{"t":0.11,"Cent":0.61,"Iso":0.52,"Cross":0.57,"Surr":0.058},
{"t":0.115,"Cent":0.58,"Iso":0.49,"Cross":0.54,"Surr":0.065},
{"t":0.12,"Cent":0.56,"Iso":0.48,"Cross":0.53,"Surr":0.07},
{"t":0.125,"Cent":0.58,"Iso":0.49,"Cross":0.54,"Surr":0.075},
{"t":0.13,"Cent":0.6,"Iso":0.5,"Cross":0.56,"Surr":0.085},
{"t":0.135,"Cent":0.61,"Iso":0.5,"Cross":0.57,"Surr":0.095},
{"t":0.14,"Cent":0.62,"Iso":0.51,"Cross":0.58,"Surr":0.105},
{"t":0.145,"Cent":0.64,"Iso":0.52,"Cross":0.59,"Surr":0.12},
{"t":0.15,"Cent":0.63,"Iso":0.53,"Cross":0.6,"Surr":0.135},
{"t":0.155,"Cent":0.62,"Iso":0.54,"Cross":0.61,"Surr":0.155},
{"t":0.16,"Cent":0.64,"Iso":0.52,"Cross":0.6,"Surr":0.165},
{"t":0.165,"Cent":0.65,"Iso":0.5,"Cross":0.61,"Surr":0.18},
{"t":0.17,"Cent":0.64,"Iso":0.5,"Cross":0.6,"Surr":0.19},
{"t":0.175,"Cent":0.63,"Iso":0.5,"Cross":0.59,"Surr":0.2},
{"t":0.18,"Cent":0.62,"Iso":0.49,"Cross":0.58,"Surr":0.21},
{"t":0.185,"Cent":0.61,"Iso":0.48,"Cross":0.58,"Surr":0.225},
{"t":0.19,"Cent":0.6,"Iso":0.46,"Cross":0.57,"Surr":0.23},
{"t":0.195,"Cent":0.59,"Iso":0.44,"Cross":0.56,"Surr":0.24},
{"t":0.2,"Cent":0.6,"Iso":0.42,"Cross":0.56,"Surr":0.245},
{"t":0.205,"Cent":0.59,"Iso":0.43,"Cross":0.55,"Surr":0.24},
{"t":0.21,"Cent":0.58,"Iso":0.42,"Cross":0.55,"Surr":0.25},
{"t":0.215,"Cent":0.58,"Iso":0.41,"Cross":0.54,"Surr":0.245},
{"t":0.22,"Cent":0.58,"Iso":0.43,"Cross":0.55,"Surr":0.255},
{"t":0.225,"Cent":0.58,"Iso":0.44,"Cross":0.55,"Surr":0.25},
{"t":0.23,"Cent":0.59,"Iso":0.43,"Cross":0.56,"Surr":0.26},
{"t":0.235,"Cent":0.58,"Iso":0.44,"Cross":0.55,"Surr":0.265},
{"t":0.24,"Cent":0.58,"Iso":0.45,"Cross":0.56,"Surr":0.26},
{"t":0.245,"Cent":0.59,"Iso":0.46,"Cross":0.57,"Surr":0.265},
{"t":0.25,"Cent":0.59,"Iso":0.47,"Cross":0.56,"Surr":0.27},
{"t":0.255,"Cent":0.6,"Iso":0.48,"Cross":0.57,"Surr":0.265},
{"t":0.26,"Cent":0.59,"Iso":0.48,"Cross":0.57,"Surr":0.27},
{"t":0.265,"Cent":0.59,"Iso":0.49,"Cross":0.56,"Surr":0.275},
{"t":0.27,"Cent":0.58,"Iso":0.48,"Cross":0.57,"Surr":0.27},
{"t":0.275,"Cent":0.58,"Iso":0.49,"Cross":0.58,"Surr":0.275},
{"t":0.28,"Cent":0.58,"Iso":0.49,"Cross":0.57,"Surr":0.28},
{"t":0.285,"Cent":0.57,"Iso":0.5,"Cross":0.58,"Surr":0.285},
{"t":0.29,"Cent":0.57,"Iso":0.49,"Cross":0.58,"Surr":0.28},
{"t":0.295,"Cent":0.56,"Iso":0.51,"Cross":0.59,"Surr":0.285},
{"t":0.3,"Cent":0.56,"Iso":0.51,"Cross":0.58,"Surr":0.28}
   ]},
   "transform": [{"fold": ["Cent","Iso","Cross","Surr"], "as": ["k","v"]}],
   "layer": [
    {"mark": {"type": "line", "strokeWidth": 7, "strokeJoin": "round", "strokeCap": "round"},
     "encoding": {
      "x": {"field": "t", "type": "quantitative", "scale": {"domain": [0,0.3], "nice": false, "zero": false},
            "axis": {"title": "Time from stimulus onset (s)", "values": [0,0.05,0.1,0.15,0.2,0.25,0.3], "format": "~g", "labelExpr": "round(datum.value*20) % 2 == 0 ? datum.label : ''", "labelPadding": 14, "titlePadding": 6}},
      "y": {"field": "v", "type": "quantitative", "scale": {"domain": [-0.07,0.7], "nice": false, "zero": false},
            "axis": {"title": "Normalized MUAe", "values": [0,0.1,0.2,0.3,0.4,0.5,0.6], "format": "~g", "labelExpr": "round(datum.value*10) % 2 == 0 ? datum.label : ''", "labelPadding": 12, "titlePadding": 10}},
      "color": {"field": "k", "type": "nominal", "scale": {"domain": ["Cent","Iso","Cross","Surr"], "range": ["#9b9b9b","#e4252b","#fbbc44","#1c9c4b"]},
                "legend": {"title": null, "orient": "none", "legendX": 235, "legendY": 136, "symbolType": "stroke", "symbolSize": 576, "symbolStrokeWidth": 5, "labelFontSize": 17, "labelOffset": 8, "rowPadding": 0, "clipHeight": 19}}
     }},
    {"mark": {"type": "line", "strokeWidth": 1.5},
     "encoding": {
      "x": {"field": "t", "type": "quantitative", "scale": {"domain": [0,0.3], "nice": false, "zero": false}},
      "y": {"field": "v", "type": "quantitative", "scale": {"domain": [-0.07,0.7], "nice": false, "zero": false}},
      "stroke": {"field": "k", "type": "nominal", "scale": {"domain": ["Cent","Iso","Cross","Surr"], "range": ["#555555","#8e1b1e","#e4741f","#0f5a2b"]}, "legend": null}
     }}
   ]
  },
  {
   "width": 258, "height": 225,
   "title": {"text": "E", "dx": -9, "offset": 8},
   "layer": [
    {"data": {"values": [{"t":0.126,"t2":0.3,"v":0}]},
     "mark": {"type": "rule", "strokeDash": [6,5], "strokeWidth": 2, "color": "#9a9a9a"},
     "encoding": {
      "x": {"field": "t", "type": "quantitative", "scale": {"domain": [0,0.3], "nice": false, "zero": false}},
      "x2": {"field": "t2"},
      "y": {"field": "v", "type": "quantitative", "scale": {"domain": [-0.1,0.8], "range": [225,7], "nice": false, "zero": false}}
     }},
    {"data": {"values": [
{"t":0,"c":0,"b":0.02,"r":0.01},
{"t":0.0025,"c":-0.02,"b":0,"r":-0.01},
{"t":0.005,"c":0.01,"b":-0.01,"r":0.02},
{"t":0.0075,"c":-0.01,"b":0.01,"r":0},
{"t":0.01,"c":0,"b":-0.02,"r":0.01},
{"t":0.0125,"c":-0.01,"b":0.01,"r":-0.01},
{"t":0.015,"c":0.01,"b":-0.01,"r":0.02},
{"t":0.0175,"c":-0.02,"b":0.02,"r":0},
{"t":0.02,"c":0,"b":0,"r":-0.01},
{"t":0.0225,"c":-0.01,"b":0.01,"r":0.01},
{"t":0.025,"c":0.01,"b":-0.02,"r":0},
{"t":0.0275,"c":-0.01,"b":0,"r":0.02},
{"t":0.03,"c":-0.02,"b":0.01,"r":-0.01},
{"t":0.0325,"c":-0.01,"b":-0.01,"r":0.01},
{"t":0.035,"c":-0.03,"b":0,"r":0},
{"t":0.0375,"c":-0.01,"b":0.02,"r":-0.02},
{"t":0.04,"c":-0.02,"b":-0.01,"r":0.01},
{"t":0.0425,"c":0,"b":0.01,"r":0},
{"t":0.045,"c":-0.01,"b":-0.01,"r":0.02},
{"t":0.0475,"c":0.01,"b":0,"r":-0.01},
{"t":0.05,"c":-0.01,"b":0.02,"r":0.01},
{"t":0.0525,"c":0,"b":-0.01,"r":-0.01},
{"t":0.055,"c":-0.02,"b":0.01,"r":0},
{"t":0.0575,"c":0,"b":-0.01,"r":0.02},
{"t":0.06,"c":-0.01,"b":0.02,"r":-0.01},
{"t":0.0625,"c":0.01,"b":0,"r":0.01},
{"t":0.065,"c":-0.01,"b":0.01,"r":0},
{"t":0.0675,"c":0.01,"b":-0.01,"r":-0.01},
{"t":0.07,"c":0.02,"b":0.01,"r":0.01},
{"t":0.0725,"c":0.04,"b":-0.01,"r":0},
{"t":0.075,"c":0.07,"b":0,"r":0.02},
{"t":0.0775,"c":0.12,"b":0.01,"r":0},
{"t":0.08,"c":0.2,"b":0.03,"r":0.01},
{"t":0.0825,"c":0.29,"b":0.01,"r":0.02},
{"t":0.085,"c":0.39,"b":0,"r":0},
{"t":0.0875,"c":0.49,"b":0.03,"r":0.03},
{"t":0.09,"c":0.58,"b":0.05,"r":0.02},
{"t":0.0925,"c":0.64,"b":0.04,"r":0.04},
{"t":0.095,"c":0.67,"b":0.07,"r":0.02},
{"t":0.0975,"c":0.7,"b":0.05,"r":0.03},
{"t":0.1,"c":0.7,"b":0.06,"r":0.02},
{"t":0.1025,"c":0.69,"b":0.08,"r":0.04},
{"t":0.105,"c":0.68,"b":0.06,"r":0.03},
{"t":0.1075,"c":0.64,"b":0.09,"r":0.06},
{"t":0.11,"c":0.62,"b":0.07,"r":0.04},
{"t":0.1125,"c":0.59,"b":0.1,"r":0.01},
{"t":0.115,"c":0.57,"b":0.08,"r":-0.02},
{"t":0.1175,"c":0.56,"b":0.1,"r":0.02},
{"t":0.12,"c":0.55,"b":0.07,"r":0.04},
{"t":0.1225,"c":0.54,"b":0.06,"r":0.02},
{"t":0.125,"c":0.56,"b":0.05,"r":0.05},
{"t":0.1275,"c":0.57,"b":0.07,"r":0.03},
{"t":0.13,"c":0.59,"b":0.09,"r":0.06},
{"t":0.1325,"c":0.6,"b":0.08,"r":0.08},
{"t":0.135,"c":0.62,"b":0.11,"r":0.06},
{"t":0.1375,"c":0.61,"b":0.13,"r":0.09},
{"t":0.14,"c":0.63,"b":0.15,"r":0.11},
{"t":0.1425,"c":0.62,"b":0.18,"r":0.09},
{"t":0.145,"c":0.64,"b":0.13,"r":0.12},
{"t":0.1475,"c":0.63,"b":0.11,"r":0.08},
{"t":0.15,"c":0.62,"b":0.1,"r":0.1},
{"t":0.1525,"c":0.64,"b":0.13,"r":0.07},
{"t":0.155,"c":0.63,"b":0.14,"r":0.11},
{"t":0.1575,"c":0.62,"b":0.12,"r":0.09},
{"t":0.16,"c":0.65,"b":0.15,"r":0.12},
{"t":0.1625,"c":0.64,"b":0.13,"r":0.08},
{"t":0.165,"c":0.66,"b":0.15,"r":0.11},
{"t":0.1675,"c":0.63,"b":0.14,"r":0.09},
{"t":0.17,"c":0.64,"b":0.13,"r":0.13},
{"t":0.1725,"c":0.62,"b":0.16,"r":0.1},
{"t":0.175,"c":0.63,"b":0.15,"r":0.08},
{"t":0.1775,"c":0.6,"b":0.17,"r":0.12},
{"t":0.18,"c":0.61,"b":0.15,"r":0.1},
{"t":0.1825,"c":0.58,"b":0.16,"r":0.14},
{"t":0.185,"c":0.6,"b":0.17,"r":0.09},
{"t":0.1875,"c":0.57,"b":0.15,"r":0.12},
{"t":0.19,"c":0.59,"b":0.16,"r":0.1},
{"t":0.1925,"c":0.55,"b":0.18,"r":0.13},
{"t":0.195,"c":0.58,"b":0.16,"r":0.09},
{"t":0.1975,"c":0.56,"b":0.17,"r":0.11},
{"t":0.2,"c":0.59,"b":0.16,"r":0.13},
{"t":0.2025,"c":0.55,"b":0.18,"r":0.08},
{"t":0.205,"c":0.6,"b":0.15,"r":0.11},
{"t":0.2075,"c":0.54,"b":0.17,"r":0.13},
{"t":0.21,"c":0.58,"b":0.15,"r":0.09},
{"t":0.2125,"c":0.56,"b":0.16,"r":0.12},
{"t":0.215,"c":0.59,"b":0.14,"r":0.08},
{"t":0.2175,"c":0.57,"b":0.15,"r":0.11},
{"t":0.22,"c":0.59,"b":0.13,"r":0.13},
{"t":0.2225,"c":0.56,"b":0.15,"r":0.09},
{"t":0.225,"c":0.58,"b":0.14,"r":0.12},
{"t":0.2275,"c":0.57,"b":0.12,"r":0.1},
{"t":0.23,"c":0.59,"b":0.14,"r":0.13},
{"t":0.2325,"c":0.56,"b":0.12,"r":0.09},
{"t":0.235,"c":0.58,"b":0.13,"r":0.11},
{"t":0.2375,"c":0.6,"b":0.11,"r":0.08},
{"t":0.24,"c":0.57,"b":0.13,"r":0.12},
{"t":0.2425,"c":0.59,"b":0.1,"r":0.1},
{"t":0.245,"c":0.56,"b":0.12,"r":0.13},
{"t":0.2475,"c":0.58,"b":0.09,"r":0.09},
{"t":0.25,"c":0.57,"b":0.11,"r":0.11},
{"t":0.2525,"c":0.59,"b":0.1,"r":0.08},
{"t":0.255,"c":0.56,"b":0.12,"r":0.12},
{"t":0.2575,"c":0.58,"b":0.08,"r":0.1},
{"t":0.26,"c":0.57,"b":0.1,"r":0.08},
{"t":0.2625,"c":0.59,"b":0.09,"r":0.11},
{"t":0.265,"c":0.58,"b":0.1,"r":0.09},
{"t":0.2675,"c":0.56,"b":0.07,"r":0.12},
{"t":0.27,"c":0.59,"b":0.09,"r":0.1},
{"t":0.2725,"c":0.57,"b":0.06,"r":0.08},
{"t":0.275,"c":0.58,"b":0.08,"r":0.11},
{"t":0.2775,"c":0.55,"b":0.05,"r":0.09},
{"t":0.28,"c":0.54,"b":0.07,"r":0.1},
{"t":0.2825,"c":0.57,"b":0.05,"r":0.08},
{"t":0.285,"c":0.58,"b":0.06,"r":0.11},
{"t":0.2875,"c":0.56,"b":0.04,"r":0.09},
{"t":0.29,"c":0.58,"b":0.05,"r":0.1},
{"t":0.2925,"c":0.57,"b":0.03,"r":0.08},
{"t":0.295,"c":0.59,"b":0.04,"r":0.09},
{"t":0.2975,"c":0.57,"b":0.02,"r":0.07},
{"t":0.3,"c":0.57,"b":0.03,"r":0.08}
     ]},
     "transform": [{"fold": ["c","b","r"], "as": ["k","v"]}],
     "mark": {"type": "line", "strokeWidth": 1},
     "encoding": {
      "x": {"field": "t", "type": "quantitative", "scale": {"domain": [0,0.3], "nice": false, "zero": false},
            "axis": {"title": "Time from stimulus onset (s)", "values": [0,0.05,0.1,0.15,0.2,0.25,0.3], "format": "~g", "labelExpr": "round(datum.value*20) % 2 == 0 ? datum.label : ''", "labelPadding": 14, "titlePadding": 6}},
      "y": {"field": "v", "type": "quantitative", "scale": {"domain": [-0.1,0.8], "range": [225,7], "nice": false, "zero": false},
            "axis": {"title": "Normalized MUAe", "values": [0,0.1,0.2,0.3,0.4,0.5,0.6,0.7,0.8], "format": "~g", "labelExpr": "round(datum.value*10) % 2 == 0 ? datum.label : ''", "labelPadding": 13, "titlePadding": 12}},
      "stroke": {"field": "k", "type": "nominal", "scale": {"domain": ["c","b","r"], "range": ["#231f20","#2e3192","#ed1c24"]}, "legend": null}
     }},
    {"data": {"values": [
{"s":"Cent","t":0,"v":0},{"s":"Cent","t":0.065,"v":0},{"s":"Cent","t":0.0675,"v":0.005},{"s":"Cent","t":0.07,"v":0.015},{"s":"Cent","t":0.0725,"v":0.035},{"s":"Cent","t":0.075,"v":0.07},{"s":"Cent","t":0.0775,"v":0.12},{"s":"Cent","t":0.08,"v":0.2},{"s":"Cent","t":0.0825,"v":0.3},{"s":"Cent","t":0.085,"v":0.4},{"s":"Cent","t":0.0875,"v":0.5},{"s":"Cent","t":0.09,"v":0.58},{"s":"Cent","t":0.0925,"v":0.64},{"s":"Cent","t":0.095,"v":0.68},{"s":"Cent","t":0.0975,"v":0.7},{"s":"Cent","t":0.1,"v":0.705},{"s":"Cent","t":0.1025,"v":0.7},{"s":"Cent","t":0.105,"v":0.685},{"s":"Cent","t":0.1075,"v":0.66},{"s":"Cent","t":0.11,"v":0.63},{"s":"Cent","t":0.1125,"v":0.6},{"s":"Cent","t":0.115,"v":0.575},{"s":"Cent","t":0.1175,"v":0.56},{"s":"Cent","t":0.12,"v":0.555},{"s":"Cent","t":0.1225,"v":0.555},{"s":"Cent","t":0.125,"v":0.562},{"s":"Cent","t":0.13,"v":0.575},{"s":"Cent","t":0.135,"v":0.582},{"s":"Cent","t":0.14,"v":0.585},{"s":"Cent","t":0.3,"v":0.585},
{"s":"Cent - Iso","t":0,"v":0},{"s":"Cent - Iso","t":0.07,"v":0},{"s":"Cent - Iso","t":0.08,"v":0.003},{"s":"Cent - Iso","t":0.09,"v":0.01},{"s":"Cent - Iso","t":0.1,"v":0.022},{"s":"Cent - Iso","t":0.11,"v":0.037},{"s":"Cent - Iso","t":0.12,"v":0.055},{"s":"Cent - Iso","t":0.13,"v":0.075},{"s":"Cent - Iso","t":0.14,"v":0.096},{"s":"Cent - Iso","t":0.15,"v":0.116},{"s":"Cent - Iso","t":0.16,"v":0.134},{"s":"Cent - Iso","t":0.17,"v":0.148},{"s":"Cent - Iso","t":0.18,"v":0.159},{"s":"Cent - Iso","t":0.19,"v":0.165},{"s":"Cent - Iso","t":0.2,"v":0.167},{"s":"Cent - Iso","t":0.21,"v":0.163},{"s":"Cent - Iso","t":0.22,"v":0.153},{"s":"Cent - Iso","t":0.23,"v":0.138},{"s":"Cent - Iso","t":0.24,"v":0.12},{"s":"Cent - Iso","t":0.25,"v":0.1},{"s":"Cent - Iso","t":0.26,"v":0.08},{"s":"Cent - Iso","t":0.27,"v":0.062},{"s":"Cent - Iso","t":0.28,"v":0.047},{"s":"Cent - Iso","t":0.29,"v":0.034},{"s":"Cent - Iso","t":0.3,"v":0.022},
{"s":"Cross - Iso","t":0,"v":0},{"s":"Cross - Iso","t":0.075,"v":0},{"s":"Cross - Iso","t":0.085,"v":0.003},{"s":"Cross - Iso","t":0.095,"v":0.01},{"s":"Cross - Iso","t":0.105,"v":0.022},{"s":"Cross - Iso","t":0.115,"v":0.037},{"s":"Cross - Iso","t":0.125,"v":0.052},{"s":"Cross - Iso","t":0.135,"v":0.066},{"s":"Cross - Iso","t":0.145,"v":0.078},{"s":"Cross - Iso","t":0.155,"v":0.087},{"s":"Cross - Iso","t":0.165,"v":0.093},{"s":"Cross - Iso","t":0.175,"v":0.097},{"s":"Cross - Iso","t":0.185,"v":0.099},{"s":"Cross - Iso","t":0.2,"v":0.1},{"s":"Cross - Iso","t":0.3,"v":0.1}
     ]},
     "mark": {"type": "line", "strokeWidth": 2.5, "interpolate": "monotone"},
     "encoding": {
      "x": {"field": "t", "type": "quantitative", "scale": {"domain": [0,0.3], "nice": false, "zero": false}},
      "y": {"field": "v", "type": "quantitative", "scale": {"domain": [-0.1,0.8], "range": [225,7], "nice": false, "zero": false}},
      "color": {"field": "s", "type": "nominal", "scale": {"domain": ["Cent","Cent - Iso","Cross - Iso"], "range": ["#231f20","#2e3192","#ed1c24"]},
                "legend": {"title": null, "orient": "none", "legendX": 94, "legendY": 283, "direction": "horizontal", "symbolType": "stroke", "symbolSize": 1089, "symbolStrokeWidth": 4, "labelFontSize": 21, "labelOffset": 9, "columnPadding": 10}}
     }},
    {"data": {"values": [
{"k":"c","x":0.0846,"top":0.52,"lo":0.08,"hi":0.089,"bar":0.475,"head":0.41},
{"k":"r","x":0.128,"top":0.52,"lo":0.099,"hi":0.16,"bar":0.475,"head":0.41},
{"k":"b","x":0.122,"top":0.52,"lo":0.106,"hi":0.139,"bar":0.475,"head":0.41}
     ]},
     "layer": [
      {"mark": {"type": "rule", "strokeWidth": 2.5},
       "encoding": {
        "x": {"field": "x", "type": "quantitative", "scale": {"domain": [0,0.3], "nice": false, "zero": false}},
        "y": {"field": "top", "type": "quantitative", "scale": {"domain": [-0.1,0.8], "range": [225,7], "nice": false, "zero": false}},
        "y2": {"field": "head"},
        "stroke": {"field": "k", "type": "nominal", "scale": {"domain": ["c","b","r"], "range": ["#231f20","#2e3192","#ed1c24"]}, "legend": null}
       }},
      {"mark": {"type": "rule", "strokeWidth": 2.5},
       "encoding": {
        "x": {"field": "lo", "type": "quantitative", "scale": {"domain": [0,0.3], "nice": false, "zero": false}},
        "x2": {"field": "hi"},
        "y": {"field": "bar", "type": "quantitative", "scale": {"domain": [-0.1,0.8], "range": [225,7], "nice": false, "zero": false}},
        "stroke": {"field": "k", "type": "nominal", "scale": {"domain": ["c","b","r"], "range": ["#231f20","#2e3192","#ed1c24"]}, "legend": null}
       }},
      {"mark": {"type": "point", "shape": "M-1,-1L0,-0.5L1,-1L0,1Z", "filled": true, "opacity": 1, "size": 620, "strokeWidth": 0},
       "encoding": {
        "x": {"field": "x", "type": "quantitative", "scale": {"domain": [0,0.3], "nice": false, "zero": false}},
        "y": {"field": "head", "type": "quantitative", "scale": {"domain": [-0.1,0.8], "range": [225,7], "nice": false, "zero": false}},
        "fill": {"field": "k", "type": "nominal", "scale": {"domain": ["c","b","r"], "range": ["#231f20","#2e3192","#ed1c24"]}, "legend": null}
       }}
     ]}
   ]
  },
  {
   "width": 237, "height": 227,
   "title": {"text": "F", "dx": -15, "offset": 8},
   "layer": [
    {"data": {"values": [{"d":-0.057,"y1":60,"y2":178.8},{"d":0.155,"y1":60,"y2":178.8}]},
     "mark": {"type": "rule", "strokeDash": [6,4], "strokeWidth": 2, "color": "#555555"},
     "encoding": {
      "x": {"field": "d", "type": "quantitative", "scale": {"domain": [-0.6165,0.4988], "nice": false, "zero": false}},
      "y": {"field": "y1", "type": "quantitative", "scale": {"domain": [60,180], "range": [227,24], "nice": false, "zero": false}},
      "y2": {"field": "y2"}
     }},
    {"data": {"values": [
{"s":"Cent","d":-0.5,"y":83.3,"lo":75.8,"hi":90.8},
{"s":"Cent","d":-0.4,"y":85.9,"lo":80.9,"hi":90.9},
{"s":"Cent","d":-0.3,"y":88.5,"lo":83.5,"hi":93.5},
{"s":"Cent","d":-0.2,"y":95.7,"lo":91.2,"hi":100.2},
{"s":"Cent","d":-0.1,"y":92.8,"lo":88.8,"hi":96.8},
{"s":"Cent","d":0,"y":83.9,"lo":81.9,"hi":85.9},
{"s":"Cent","d":0.1,"y":85.5,"lo":83.5,"hi":87.5},
{"s":"Cent","d":0.2,"y":90.2,"lo":86.2,"hi":94.2},
{"s":"Cent","d":0.3,"y":94.2,"lo":89.7,"hi":98.7},
{"s":"Cent","d":0.4,"y":94.8,"lo":88.8,"hi":100.8},
{"s":"Cross - Iso","d":-0.3,"y":142.4,"lo":122,"hi":162.7},
{"s":"Cross - Iso","d":-0.2,"y":166.2,"lo":158.4,"hi":174},
{"s":"Cross - Iso","d":-0.1,"y":139.6,"lo":124,"hi":155.2},
{"s":"Cross - Iso","d":0,"y":122.7,"lo":105.7,"hi":139.7},
{"s":"Cross - Iso","d":0.1,"y":142.4,"lo":122,"hi":162.7},
{"s":"Cross - Iso","d":0.2,"y":142.6,"lo":126.3,"hi":155.4},
{"s":"Cross - Iso","d":0.3,"y":141.6,"lo":127.2,"hi":150.5},
{"s":"Cent - Iso","d":-0.5,"y":153.4,"lo":132.8,"hi":174},
{"s":"Cent - Iso","d":-0.4,"y":130.8,"lo":122.2,"hi":139.4},
{"s":"Cent - Iso","d":-0.3,"y":132.2,"lo":120.6,"hi":143.8},
{"s":"Cent - Iso","d":-0.2,"y":158.7,"lo":146.2,"hi":171.2},
{"s":"Cent - Iso","d":-0.1,"y":131.8,"lo":126.2,"hi":137.4},
{"s":"Cent - Iso","d":0,"y":120.7,"lo":110.7,"hi":130.7},
{"s":"Cent - Iso","d":0.1,"y":126.9,"lo":118.9,"hi":134.9},
{"s":"Cent - Iso","d":0.2,"y":133.5,"lo":127.9,"hi":139.1},
{"s":"Cent - Iso","d":0.3,"y":140.4,"lo":133.7,"hi":147.1},
{"s":"Cent - Iso","d":0.4,"y":133.5,"lo":132.5,"hi":134.5}
     ]},
     "layer": [
      {"mark": {"type": "rule", "strokeWidth": 1},
       "encoding": {
        "x": {"field": "d", "type": "quantitative", "scale": {"domain": [-0.6165,0.4988], "nice": false, "zero": false}},
        "y": {"field": "lo", "type": "quantitative", "scale": {"domain": [60,180], "range": [227,24], "nice": false, "zero": false}},
        "y2": {"field": "hi"},
        "color": {"field": "s", "type": "nominal", "scale": {"domain": ["Cent","Cent - Iso","Cross - Iso"], "range": ["#231f20","#2e3192","#ed1c24"]}, "legend": null}
       }},
      {"mark": {"type": "tick", "orient": "horizontal", "size": 7, "thickness": 1.2},
       "encoding": {
        "x": {"field": "d", "type": "quantitative", "scale": {"domain": [-0.6165,0.4988], "nice": false, "zero": false}},
        "y": {"field": "lo", "type": "quantitative", "scale": {"domain": [60,180], "range": [227,24], "nice": false, "zero": false}},
        "color": {"field": "s", "type": "nominal", "scale": {"domain": ["Cent","Cent - Iso","Cross - Iso"], "range": ["#231f20","#2e3192","#ed1c24"]}, "legend": null}
       }},
      {"mark": {"type": "tick", "orient": "horizontal", "size": 7, "thickness": 1.2},
       "encoding": {
        "x": {"field": "d", "type": "quantitative", "scale": {"domain": [-0.6165,0.4988], "nice": false, "zero": false}},
        "y": {"field": "hi", "type": "quantitative", "scale": {"domain": [60,180], "range": [227,24], "nice": false, "zero": false}},
        "color": {"field": "s", "type": "nominal", "scale": {"domain": ["Cent","Cent - Iso","Cross - Iso"], "range": ["#231f20","#2e3192","#ed1c24"]}, "legend": null}
       }},
      {"mark": {"type": "line", "strokeWidth": 2.5},
       "encoding": {
        "x": {"field": "d", "type": "quantitative", "scale": {"domain": [-0.6165,0.4988], "nice": false, "zero": false},
              "axis": {"title": "Laminar depth (mm)", "values": [-0.4,-0.2,0,0.2,0.4], "format": "~g", "labelPadding": 14, "titlePadding": 6}},
        "y": {"field": "y", "type": "quantitative", "scale": {"domain": [60,180], "range": [227,24], "nice": false, "zero": false},
              "axis": {"title": "Latency (ms)", "values": [80,100,120,140,160,180], "labelPadding": 10, "titlePadding": 8}},
        "color": {"field": "s", "type": "nominal", "scale": {"domain": ["Cent","Cent - Iso","Cross - Iso"], "range": ["#231f20","#2e3192","#ed1c24"]}, "legend": null}
       }},
      {"mark": {"type": "point", "filled": true, "opacity": 1, "size": 30, "shape": "circle"},
       "encoding": {
        "x": {"field": "d", "type": "quantitative", "scale": {"domain": [-0.6165,0.4988], "nice": false, "zero": false}},
        "y": {"field": "y", "type": "quantitative", "scale": {"domain": [60,180], "range": [227,24], "nice": false, "zero": false}},
        "color": {"field": "s", "type": "nominal", "scale": {"domain": ["Cent","Cent - Iso","Cross - Iso"], "range": ["#231f20","#2e3192","#ed1c24"]}, "legend": null}
       }}
     ]},
    {"data": {"values": [{"lab":"Deep","d":-0.343,"y":183.5},{"lab":"Layer 4","d":0.047,"y":183.5},{"lab":"Super","d":0.433,"y":183.5}]},
     "mark": {"type": "text", "font": "Open Sans", "fontWeight": "bold", "fontSize": 17, "baseline": "alphabetic", "align": "center", "color": "#231f20"},
     "encoding": {
      "x": {"field": "d", "type": "quantitative", "scale": {"domain": [-0.6165,0.4988], "nice": false, "zero": false}},
      "y": {"field": "y", "type": "quantitative", "scale": {"domain": [60,180], "range": [227,24], "nice": false, "zero": false}},
      "text": {"field": "lab"}
     }}
   ]
  }
]
}
